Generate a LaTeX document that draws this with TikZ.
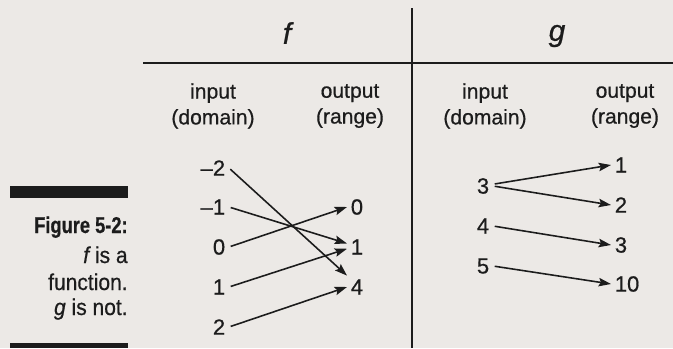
\documentclass[tikz,border=0pt]{standalone}
\usepackage{fontspec}
\setmainfont{Liberation Sans}[FakeBold=0.6]
\newfontfamily\capfont{Liberation Sans}[FakeStretch=0.92,FakeBold=0.6,BoldFeatures={FakeStretch=0.8}]
\usepackage{tikz}
\usetikzlibrary{arrows.meta,positioning}
\definecolor{paper}{HTML}{ECE9E6}
\definecolor{ink}{HTML}{1C1C1C}

\begin{document}
\begin{tikzpicture}[x=0.2mm, y=-0.2mm,
  num/.style={font=\fontsize{12.5}{14}\selectfont, text=ink, inner sep=2pt},
  head/.style={font=\fontsize{12}{14.7}\selectfont, text=ink, align=center, inner sep=0pt},
  coltitle/.style={font=\fontsize{17}{19}\selectfont\itshape, text=ink},
  captext/.style={font=\capfont\fontsize{13}{15}\selectfont, text=ink, anchor=base east, inner sep=0pt},
  map/.style={-{Stealth[length=7pt,width=4.8pt,inset=1.2pt]}, line width=0.9pt, ink, shorten <=1pt}]

  % Paper
  \fill[paper] (0,0) rectangle (673,348);
  \useasboundingbox (0,0) rectangle (673,348);

  % Table rules
  \draw[line width=1.4pt, ink] (143,63) -- (673,63);
  \draw[line width=1.1pt, ink] (412,8) -- (412,348);

  % Column titles
  \node[coltitle] (ftitle) at (287,33) {f};
  \node[coltitle] (gtitle) at (557,36) {g};
  \node[head] (fdom) at (213,106) {input\\(domain)};
  \node[head] (frng) at (350,106) {output\\(range)};
  \node[head] (gdom) at (485,106) {input\\(domain)};
  \node[head] (grng) at (625,106) {output\\(range)};

  % f: inputs and outputs
  \node[num, anchor=east] (fm2) at (229,168) {--2};
  \node[num, anchor=east] (fm1) at (229,207) {--1};
  \node[num, anchor=east] (f0)  at (229,247) {0};
  \node[num, anchor=east] (f1)  at (229,287) {1};
  \node[num, anchor=east] (f2)  at (229,327) {2};
  \node[num, anchor=west] (fo0) at (347,207) {0};
  \node[num, anchor=west] (fo1) at (347,247) {1};
  \node[num, anchor=west] (fo4) at (347,287) {4};

  \draw[map] (fm2.east) -- (fo4.north west);
  \draw[map] (fm1.east) -- ([yshift=2pt]fo1.west);
  \draw[map] (f0.east)  -- (fo0.west);
  \draw[map] (f1.east)  -- ([yshift=-1pt]fo1.west);
  \draw[map] (f2.east)  -- (fo4.west);

  % g: inputs and outputs
  \node[num, anchor=east] (g3) at (493,186) {3};
  \node[num, anchor=east] (g4) at (493,226) {4};
  \node[num, anchor=east] (g5) at (493,266) {5};
  \node[num, anchor=west] (go1)  at (611,165) {1};
  \node[num, anchor=west] (go2)  at (611,205) {2};
  \node[num, anchor=west] (go3)  at (611,245) {3};
  \node[num, anchor=west] (go10) at (611,284) {10};

  \draw[map] ([yshift=1pt]g3.east) -- (go1.west);
  \draw[map] (g3.east) -- (go2.west);
  \draw[map] (g4.east) -- (go3.west);
  \draw[map] (g5.east) -- (go10.west);

  % Caption
  \fill[ink] (10,186) rectangle (128,198);
  \fill[ink] (10,343) rectangle (128,348);
  \node[captext] (capa) at (128,233) {\bfseries Figure 5-2:};
  \node[captext] (capb) at (128,263) {{\itshape f} is a};
  \node[captext] (capc) at (128,290) {function.};
  \node[captext] (capd) at (128,315) {{\itshape g} is not.};
\end{tikzpicture}
\end{document}
